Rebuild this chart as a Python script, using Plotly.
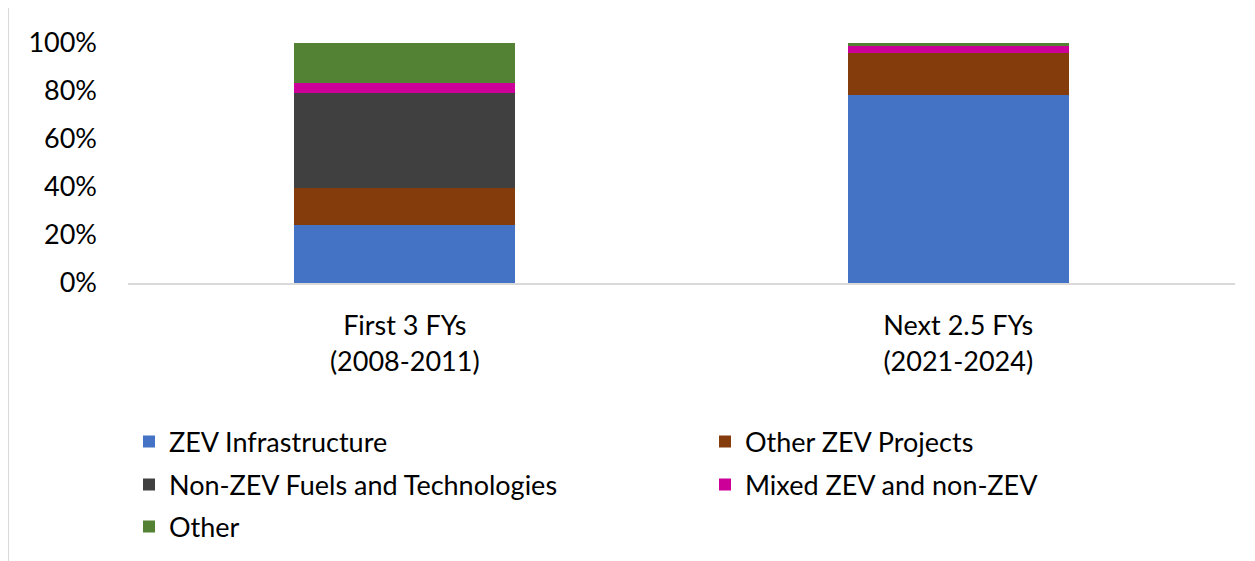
import plotly.graph_objects as go

categories = ["First 3 FYs<br>(2008-2011)", "Next 2.5 FYs<br>(2021-2024)"]
series_names = ["ZEV Infrastructure", "Other ZEV Projects", "Non-ZEV Fuels and Technologies",
                "Mixed ZEV and non-ZEV", "Other"]
zev_infra = [0.241, 0.783]
other_zev = [0.154, 0.175]
non_zev = [0.396, 0.0]
mixed = [0.042, 0.031]
other = [0.167, 0.011]
colors = ["#4472C4", "#843C0C", "#404040", "#CC0099", "#548235"]

values = [zev_infra, other_zev, non_zev, mixed, other]
FONT = "Lato, Carlito, Calibri, sans-serif"
FS = 27
W, H = 1255, 561

# legend slots: (x px, y center px) in the figure
legend_pos = [(121, 434), (697, 434), (121, 477), (697, 477), (121, 519)]
legend_ids = ["legend", "legend2", "legend3", "legend4", "legend5"]

fig = go.Figure()
for name, vals, col, lid in zip(series_names, values, colors, legend_ids):
    fig.add_trace(go.Bar(x=categories, y=vals, name=name, marker_color=col,
                         marker_line_width=0, legend=lid))

layout_legends = {}
for lid, (px, py) in zip(legend_ids, legend_pos):
    layout_legends[lid] = dict(xref="container", yref="container",
                               x=px / W, y=1 - py / H,
                               xanchor="left", yanchor="middle",
                               font=dict(family=FONT, size=FS, color="black"),
                               bgcolor="rgba(0,0,0,0)", itemclick=False)

ML, MR, MT, MB = 120, 28, 35, 286
fig.update_layout(
    barmode="stack",
    bargap=0.6,
    width=W, height=H,
    margin=dict(l=ML, r=MR, t=MT, b=MB, autoexpand=False),
    paper_bgcolor="white", plot_bgcolor="white",
    font=dict(family=FONT, size=FS, color="black"),
    showlegend=True,
    **layout_legends,
)
fig.update_yaxes(range=[0, 1], tickformat=".0%", tickvals=[0, 0.2, 0.4, 0.6, 0.8, 1.0],
                 showgrid=False, zeroline=False, showline=False, automargin=False,
                 ticklabelstandoff=30, fixedrange=True)
fig.update_xaxes(showline=True, linecolor="#D9D9D9", linewidth=2, ticks="", automargin=False,
                 ticklabelstandoff=18, fixedrange=True)

pw, ph = W - ML - MR, H - MT - MB
fig.add_shape(type="line", xref="paper", yref="paper", x0=-ML / pw, x1=-ML / pw,
              y0=-MB / ph, y1=1 + MT / ph, line=dict(color="#D9D9D9", width=2))

fig.write_html("out.html")
